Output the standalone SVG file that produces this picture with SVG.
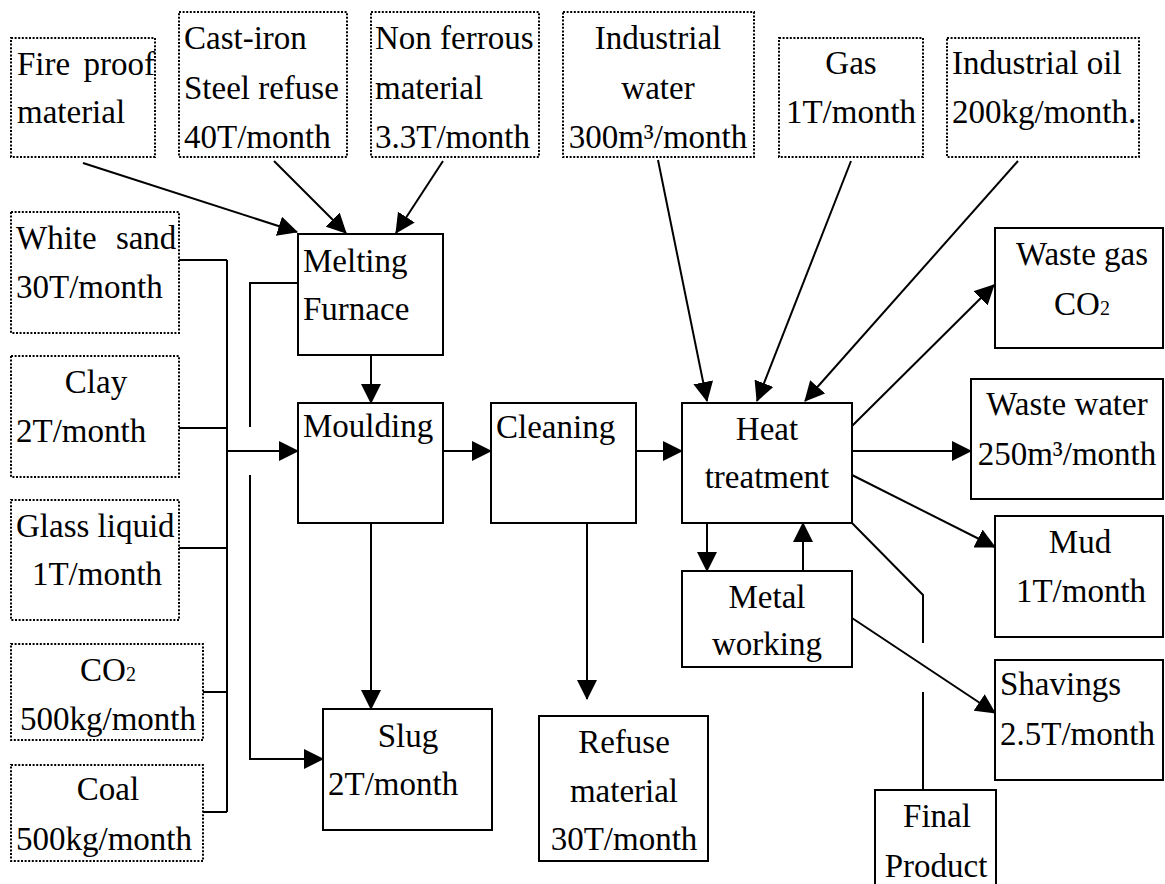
<svg xmlns="http://www.w3.org/2000/svg" width="1165" height="884" viewBox="0 0 1165 884">
  <style>
    text { font-family: "Liberation Serif", "Times New Roman", serif; font-size: 33px; fill: #000; }
    .c { text-anchor: middle; }
    .sub { font-size: 20px; }
    .box { fill: #fff; stroke: #000; stroke-width: 2; }
    .dot { fill: #fff; stroke: #000; stroke-width: 2; stroke-dasharray: 2 1.6; }
    .ln { fill: none; stroke: #000; stroke-width: 2; }
    .ar { fill: none; stroke: #000; stroke-width: 2; marker-end: url(#ah); }
  </style>
  <defs>
    <marker id="ah" markerUnits="userSpaceOnUse" markerWidth="20" markerHeight="20" viewBox="0 0 20 20" refX="19" refY="10" orient="auto">
      <path d="M0,0 L20,10 L0,20 z" fill="#000"/>
    </marker>
  </defs>
  <rect width="1165" height="884" fill="#fff"/>

  <!-- connectors -->
  <g id="connectors">
    <!-- raw materials into the melting furnace -->
    <line class="ar" x1="83" y1="163" x2="297" y2="232"/>
    <line class="ar" x1="274" y1="161" x2="346" y2="233"/>
    <line class="ar" x1="443" y1="161" x2="396" y2="233"/>
    <!-- sand/clay/glass/CO2/coal bus into moulding -->
    <path class="ln" d="M179,260 H227 M179,428 H227 M179,548 H227 M203,692 H227 M203,812 H227 M227,260 V812"/>
    <line class="ar" x1="227" y1="451" x2="298" y2="451"/>
    <!-- furnace slag line down to slug -->
    <path class="ln" d="M298,283 H250 V427"/>
    <path class="ar" d="M250,475 V759 H323"/>
    <!-- main process flow -->
    <line class="ar" x1="371" y1="355" x2="371" y2="403"/>
    <line class="ar" x1="443" y1="451" x2="491" y2="451"/>
    <line class="ar" x1="636" y1="451" x2="682" y2="451"/>
    <line class="ar" x1="371" y1="523" x2="371" y2="709"/>
    <line class="ar" x1="587" y1="523" x2="587" y2="699"/>
    <line class="ar" x1="707" y1="523" x2="707" y2="571"/>
    <line class="ar" x1="803" y1="571" x2="803" y2="523"/>
    <!-- utilities into heat treatment -->
    <line class="ar" x1="658" y1="160" x2="707" y2="401"/>
    <line class="ar" x1="851" y1="161" x2="757" y2="401"/>
    <line class="ar" x1="1018" y1="161" x2="805" y2="401"/>
    <!-- outputs -->
    <line class="ar" x1="852" y1="426" x2="994" y2="285"/>
    <line class="ar" x1="852" y1="451" x2="971" y2="451"/>
    <line class="ar" x1="852" y1="475" x2="995" y2="547"/>
    <line class="ar" x1="852" y1="618" x2="995" y2="713"/>
    <path class="ln" d="M852,523 L923,595 V643 M923,692 V790"/>
  </g>

  <!-- input boxes -->
  <g id="fireproof">
    <rect class="dot" x="11" y="38" width="144" height="119"/>
    <text x="17" y="75" word-spacing="5">Fire proof</text>
    <text x="17" y="123">material</text>
  </g>
  <g id="castiron">
    <rect class="dot" x="179" y="12" width="168" height="145"/>
    <text x="184" y="49">Cast-iron</text>
    <text x="184" y="99">Steel refuse</text>
    <text x="184" y="148">40T/month</text>
  </g>
  <g id="nonferrous">
    <rect class="dot" x="371" y="12" width="168" height="145"/>
    <text x="375" y="49">Non ferrous</text>
    <text x="375" y="99">material</text>
    <text x="375" y="148">3.3T/month</text>
  </g>
  <g id="water">
    <rect class="dot" x="563" y="12" width="191" height="145"/>
    <text class="c" x="658" y="49">Industrial</text>
    <text class="c" x="658" y="99">water</text>
    <text class="c" x="658" y="148">300m³/month</text>
  </g>
  <g id="gas">
    <rect class="dot" x="779" y="38" width="144" height="119"/>
    <text class="c" x="851" y="74">Gas</text>
    <text class="c" x="851" y="123">1T/month</text>
  </g>
  <g id="oil">
    <rect class="dot" x="947" y="38" width="192" height="119"/>
    <text x="952" y="74">Industrial oil</text>
    <text x="952" y="123">200kg/month.</text>
  </g>
  <g id="whitesand">
    <rect class="dot" x="11" y="212" width="168" height="121"/>
    <text x="16" y="249" word-spacing="11">White sand</text>
    <text x="16" y="298">30T/month</text>
  </g>
  <g id="clay">
    <rect class="dot" x="11" y="356" width="168" height="121"/>
    <text class="c" x="96" y="393">Clay</text>
    <text x="16" y="442">2T/month</text>
  </g>
  <g id="glass">
    <rect class="dot" x="11" y="500" width="168" height="120"/>
    <text x="16" y="537">Glass liquid</text>
    <text class="c" x="97" y="585">1T/month</text>
  </g>
  <g id="co2">
    <rect class="dot" x="11" y="644" width="192" height="96"/>
    <text class="c" x="108" y="681">CO<tspan class="sub">2</tspan></text>
    <text x="20" y="730">500kg/month</text>
  </g>
  <g id="coal">
    <rect class="dot" x="11" y="765" width="192" height="96"/>
    <text class="c" x="108" y="800">Coal</text>
    <text x="16" y="850">500kg/month</text>
  </g>

  <!-- process boxes -->
  <g id="melting">
    <rect class="box" x="298" y="234" width="145" height="121"/>
    <text x="303" y="272">Melting</text>
    <text x="303" y="320">Furnace</text>
  </g>
  <g id="moulding">
    <rect class="box" x="298" y="403" width="145" height="120"/>
    <text x="303" y="437">Moulding</text>
  </g>
  <g id="cleaning">
    <rect class="box" x="491" y="403" width="145" height="120"/>
    <text x="496" y="438">Cleaning</text>
  </g>
  <g id="heat">
    <rect class="box" x="682" y="403" width="170" height="120"/>
    <text class="c" x="767" y="440">Heat</text>
    <text class="c" x="767" y="488">treatment</text>
  </g>
  <g id="metal">
    <rect class="box" x="682" y="571" width="170" height="96"/>
    <text class="c" x="767" y="608">Metal</text>
    <text class="c" x="767" y="655">working</text>
  </g>

  <!-- output boxes -->
  <g id="slug">
    <rect class="box" x="323" y="709" width="169" height="121"/>
    <text class="c" x="408" y="747">Slug</text>
    <text x="328" y="795">2T/month</text>
  </g>
  <g id="refuse">
    <rect class="box" x="539" y="716" width="169" height="145"/>
    <text class="c" x="624" y="753">Refuse</text>
    <text class="c" x="624" y="802">material</text>
    <text class="c" x="624" y="850">30T/month</text>
  </g>
  <g id="wastegas">
    <rect class="box" x="995" y="228" width="168" height="120"/>
    <text class="c" x="1082" y="265">Waste gas</text>
    <text class="c" x="1082" y="315">CO<tspan class="sub">2</tspan></text>
  </g>
  <g id="wastewater">
    <rect class="box" x="971" y="379" width="192" height="120"/>
    <text class="c" x="1067" y="415">Waste water</text>
    <text class="c" x="1067" y="465">250m³/month</text>
  </g>
  <g id="mud">
    <rect class="box" x="995" y="516" width="168" height="121"/>
    <text class="c" x="1080" y="553">Mud</text>
    <text class="c" x="1081" y="602">1T/month</text>
  </g>
  <g id="shavings">
    <rect class="box" x="995" y="660" width="168" height="120"/>
    <text x="1000" y="695">Shavings</text>
    <text x="1000" y="745">2.5T/month</text>
  </g>
  <g id="final">
    <path class="box" d="M875,884 V790 H996 V884"/>
    <text class="c" x="937" y="827">Final</text>
    <text class="c" x="936" y="877">Product</text>
  </g>
</svg>
